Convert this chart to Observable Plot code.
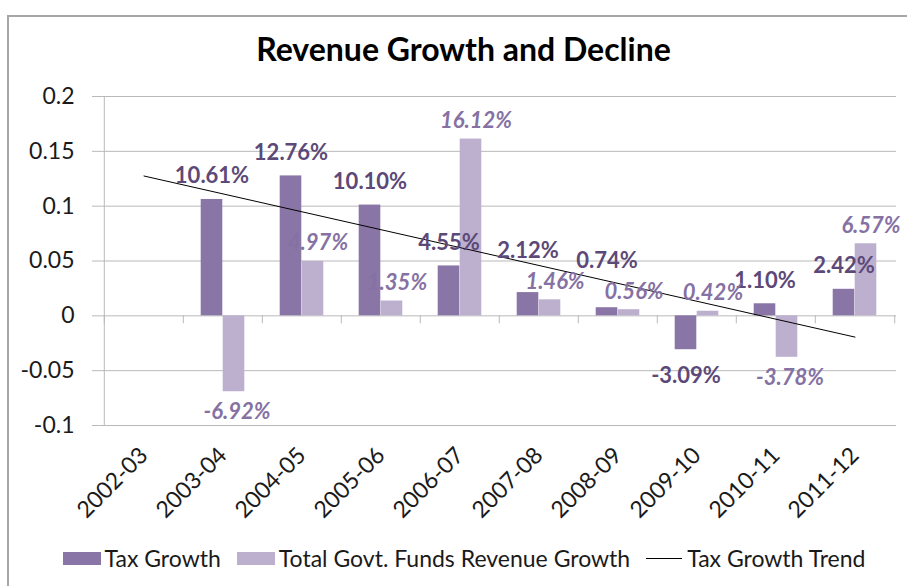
<!DOCTYPE html>
<html><head><meta charset="utf-8">
<script src="https://cdn.jsdelivr.net/npm/d3@7"></script>
<script src="https://cdn.jsdelivr.net/npm/@observablehq/plot@0.6"></script>
<style>
body{margin:0;background:#fff;}
#wrap{position:relative;width:907px;height:586px;overflow:hidden;font-family:Lato,sans-serif;background:#fff;}
#frame{position:absolute;left:7px;top:15px;width:940px;height:620px;border-left:2px solid #a6a6a6;border-top:2px solid #a6a6a6;}
#chart{position:absolute;left:0;top:0;}
#title{position:absolute;left:0;width:927px;top:29px;text-align:center;font-weight:bold;font-size:32px;color:#000;white-space:nowrap;}
#legend{position:absolute;top:544px;left:0;width:928px;display:flex;justify-content:center;align-items:center;font-size:23px;color:#1a1a1a;white-space:nowrap;}
.item{display:flex;align-items:center;margin:0 8px;}
.sw{width:38px;height:13px;margin-right:4px;}
.ln{width:36px;height:0;border-top:1px solid #000;margin-right:5px;}
</style>
</head><body>
<div id="wrap">
  <div id="frame"></div>
  <div id="chart"></div>
  <div id="title"></div>
  <div id="legend"></div>
</div>
<script>
const titleText = "Revenue Growth and Decline";
const years = ["2002-03","2003-04","2004-05","2005-06","2006-07","2007-08","2008-09","2009-10","2010-11","2011-12"];
const taxGrowth = [null, 0.1061, 0.1276, 0.1010, 0.0455, 0.0212, 0.0074, -0.0309, 0.0110, 0.0242];
const totalGrowth = [null, -0.0692, 0.0497, 0.0135, 0.1612, 0.0146, 0.0056, 0.0042, -0.0378, 0.0657];
const seriesNames = ["Tax Growth", "Total Govt. Funds Revenue Growth", "Tax Growth Trend"];
const seriesColors = ["#8a76a6", "#bdb0cf", "#000000"];
const yTicks = [-0.1, -0.05, 0, 0.05, 0.1, 0.15, 0.2];

// linear trend of tax growth over category index (missing values skipped)
const pts = years.map((y, i) => ({i: i + 1, v: taxGrowth[i]})).filter(d => d.v != null);
const mx = d3.mean(pts, d => d.i), my = d3.mean(pts, d => d.v);
const slope = d3.sum(pts, d => (d.i - mx) * (d.v - my)) / d3.sum(pts, d => (d.i - mx) ** 2);
const trend = years.map((y, i) => ({year: y, v: my + slope * (i + 1 - mx)}));

const W = 907, H = 586, mL = 102, mR = 11, mT = 96, mB = 161;
const bw = (W - mL - mR) / years.length;
const barW = 22;
const grid = "#b9b9b9";
const yDomain = [-0.1, 0.2];
const yPx = d3.scaleLinear(yDomain, [H - mB, mT]);

const pct = v => (v * 100).toFixed(2) + "%";
const taxRows = years.map((y, i) => ({year: y, v: taxGrowth[i], t: totalGrowth[i]})).filter(d => d.v != null);
const totRows = years.map((y, i) => ({year: y, v: totalGrowth[i]})).filter(d => d.v != null);

// simple label collision avoidance: lift a tax label above the neighbouring total label
const capH = 16;
taxRows.forEach(d => {
  if (d.v < 0) return;
  let base = yPx(d.v) - 16;
  if (d.t != null && d.t >= 0) {
    const tBase = yPx(d.t) - 11, tTop = tBase - capH;
    if (base > tTop - 2 && base - capH < tBase + 2) base = tTop - 15;
  }
  d.ly = yPx.invert(base);
});

const plot = Plot.plot({
  width: W, height: H,
  marginLeft: mL, marginRight: mR, marginTop: mT, marginBottom: mB,
  style: {fontFamily: "Lato, sans-serif", fontSize: "23px", color: "#1a1a1a", background: "transparent", overflow: "visible"},
  x: {domain: years, padding: 0, label: null, tickRotate: -45, tickSize: 0, tickPadding: 26},
  y: {domain: yDomain, ticks: yTicks, tickFormat: d => String(d), label: null, tickSize: 0, tickPadding: 28},
  marks: [
    Plot.ruleY(yTicks, {stroke: grid, insetLeft: -10}),
    Plot.ruleX([years[0]], {y1: -0.1, y2: 0.2, dx: -bw / 2, stroke: grid}),
    Plot.ruleX(years, {y1: 0, y2: 0, dx: -bw / 2, insetBottom: -8, stroke: grid}),
    Plot.ruleX([years[years.length - 1]], {y1: 0, y2: 0, dx: bw / 2, insetBottom: -8, stroke: grid}),
    Plot.barY(taxRows, {x: "year", y: "v", fill: seriesColors[0], insetLeft: bw / 2 - barW, insetRight: bw / 2}),
    Plot.barY(totRows, {x: "year", y: "v", fill: seriesColors[1], insetLeft: bw / 2, insetRight: bw / 2 - barW}),
    Plot.line(trend, {x: "year", y: "v", stroke: seriesColors[2], strokeWidth: 1}),
    Plot.text(taxRows.filter(d => d.v >= 0), {x: "year", y: "ly", text: d => pct(d.v), dx: -11, lineAnchor: "bottom", fill: "#5c4978", fontWeight: "bold", fontSize: 22}),
    Plot.text(taxRows.filter(d => d.v < 0), {x: "year", y: "v", text: d => pct(d.v), dx: -11, dy: 18, lineAnchor: "top", fill: "#5c4978", fontWeight: "bold", fontSize: 22}),
    Plot.text(totRows.filter(d => d.v >= 0), {x: "year", y: "v", text: d => pct(d.v), dx: 16, dy: -11, lineAnchor: "bottom", fill: "#8571a3", fontWeight: "bold", fontStyle: "italic", fontSize: 22}),
    Plot.text(totRows.filter(d => d.v < 0), {x: "year", y: "v", text: d => pct(d.v), dx: 14, dy: 12, lineAnchor: "top", fill: "#8571a3", fontWeight: "bold", fontStyle: "italic", fontSize: 22})
  ]
});
document.getElementById("chart").appendChild(plot);
document.getElementById("title").textContent = titleText;

const legend = document.getElementById("legend");
seriesNames.forEach((name, i) => {
  const it = document.createElement("div");
  it.className = "item";
  const key = document.createElement("span");
  if (i < 2) { key.className = "sw"; key.style.background = seriesColors[i]; }
  else { key.className = "ln"; }
  const label = document.createElement("span");
  label.textContent = name;
  it.appendChild(key); it.appendChild(label);
  legend.appendChild(it);
});
</script>
</body></html>
